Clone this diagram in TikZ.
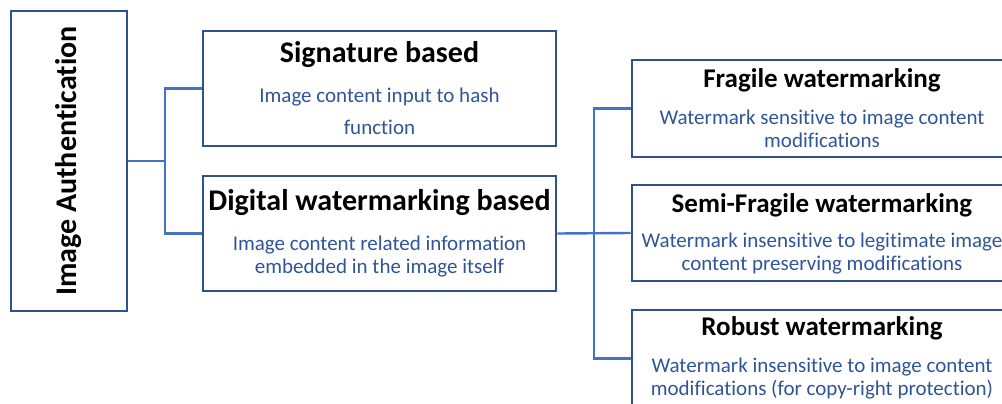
\documentclass[tikz,border=0pt]{standalone}
\usepackage{fontspec}
\setmainfont{Carlito}[Ligatures={NoCommon,NoContextual}]
\definecolor{boxblue}{HTML}{2F528F}
\definecolor{lineblue}{HTML}{4472C4}
\definecolor{textblue}{HTML}{2F5597}

\begin{document}
\begin{tikzpicture}[
    x=1pt, y=-1pt,
    box/.style={draw=boxblue, line width=2.8pt, rectangle, inner sep=0pt},
    head/.style={font=\bfseries\fontsize{30}{36}\selectfont, inner sep=0pt},
    subhead/.style={font=\bfseries\fontsize{27}{32}\selectfont, inner sep=0pt},
    info/.style={font=\fontsize{21}{23}\selectfont, text=textblue, align=center, inner sep=0pt},
    link/.style={draw=lineblue, line width=2.4pt}
]
\useasboundingbox (0,0) rectangle (1002,404);

% Root and the two families
\node[box, minimum width=116pt, minimum height=300pt] (auth) at (69,161) {};
\node[head, rotate=90] (auth-t) at (69,161) {Image Authentication};

\node[box, minimum width=353pt, minimum height=115pt] (sig) at (379.5,88.5) {};
\node[head] (sig-t) at (379.5,55) {Signature based};
\node[info, font=\fontsize{21}{32}\selectfont] (sig-d) at (379.5,111) {Image content input to hash\\function};

\node[box, minimum width=353pt, minimum height=115pt] (dwm) at (379.5,233.5) {};
\node[head] (dwm-t) at (379.5,203) {Digital watermarking based};
\node[info] (dwm-d) at (379.5,256.5) {Image content related information\\embedded in the image itself};

% Kinds of watermarking
\node[box, minimum width=380pt, minimum height=97pt] (frag) at (822,108.5) {};
\node[subhead] (frag-t) at (822,80) {Fragile watermarking};
\node[info] (frag-d) at (822,129) {Watermark sensitive to image content\\modifications};

\node[box, minimum width=380pt, minimum height=96pt] (semi) at (822,233) {};
\node[subhead] (semi-t) at (822,205) {Semi-Fragile watermarking};
\node[info] (semi-d) at (822,254) {Watermark insensitive to legitimate image\\content preserving modifications};

\node[box, minimum width=380pt, minimum height=97pt] (rob) at (822,358.5) {};
\node[subhead] (rob-t) at (822,328) {Robust watermarking};
\node[info] (rob-d) at (822,378.5) {Watermark insensitive to image content\\modifications (for copy-right protection)};

% Connectors
\coordinate (j1) at (165,161);
\coordinate (j2) at (594,233.5);
\draw[link] (auth.east) -- (j1);
\draw[link] (sig.west) -| (j1) |- (dwm.west);
\draw[link] (dwm.east) -- (semi.west);
\draw[link] (frag.west) -| (j2) |- (rob.west);

\end{tikzpicture}
\end{document}
